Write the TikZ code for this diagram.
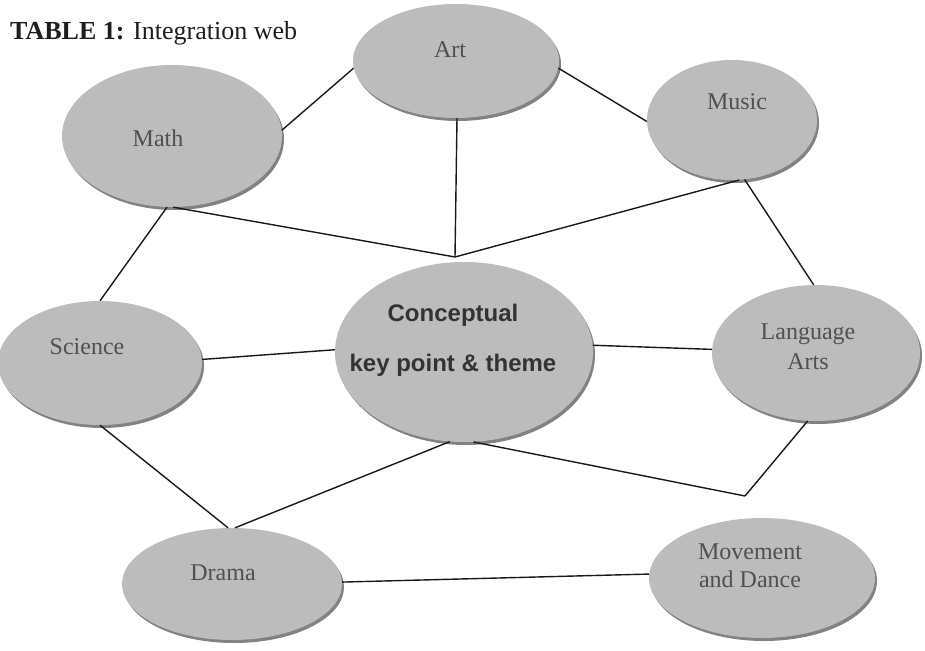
\documentclass[tikz,border=0pt]{standalone}
\usepackage{fontspec}
\setmainfont{Liberation Serif}
\newfontfamily\centerfont{Liberation Sans}
\usetikzlibrary{shapes.geometric,shadows}
\definecolor{ellfill}{RGB}{188,188,188}
\definecolor{ellshadow}{RGB}{130,130,130}
\definecolor{labelgray}{RGB}{80,80,80}
\definecolor{titlecol}{RGB}{30,30,30}
\begin{document}
\begin{tikzpicture}[x=1pt,y=-1pt,
  topic/.style={ellipse, fill=ellfill, draw=none, inner sep=0pt,
    general shadow={fill=ellshadow, shadow xshift=2pt, shadow yshift=-3pt}},
  lbl/.style={text=labelgray, font=\fontsize{24}{30}\selectfont, align=center, inner sep=0pt},
  link/.style={draw=black!90, line width=1.4pt}]
\useasboundingbox (0,0) rectangle (925,650);

% title
\node[anchor=base west, inner sep=0pt, text=titlecol, font=\fontsize{26}{30}\selectfont] (title) at (10,40) {\textbf{TABLE 1:} Integration web};

% ellipses
\node[topic, minimum width=206pt, minimum height=114pt] (art) at (456,61) {};
\node[topic, minimum width=220pt, minimum height=142pt] (math) at (172,136) {};
\node[topic, minimum width=170pt, minimum height=120pt] (music) at (732,120) {};
\node[topic, minimum width=204pt, minimum height=124pt] (science) at (100,363) {};
\node[topic, minimum width=258pt, minimum height=180pt] (conc) at (464,352) {};
\node[topic, minimum width=208pt, minimum height=136pt] (la) at (816,353) {};
\node[topic, minimum width=220pt, minimum height=112pt] (drama) at (232,584) {};
\node[topic, minimum width=226pt, minimum height=120pt] (move) at (762,578) {};

% labels
\node[lbl] (art-t) at (450,50) {Art};
\node[lbl] (math-t) at (158,138) {Math};
\node[lbl] (music-t) at (737,102) {Music};
\node[lbl] (sci-t) at (87,347) {Science};
\node[lbl, text=black!80, font=\centerfont\bfseries\fontsize{24}{50}\selectfont] (conc-t) at (453,340) {Conceptual\\key point \& theme};
\node[lbl] (la-t) at (808,347) {Language\\Arts};
\node[lbl] (drama-t) at (223,573) {Drama};
\node[lbl, font=\fontsize{24}{28}\selectfont] (move-t) at (750,566) {Movement\\and Dance};

% junctions
\coordinate (j1) at (455,257);
\coordinate (j2) at (745,496);

% connectors
\draw[link] (math.3) -- (art.184);
\draw[link] (art.-4) -- (music.181);
\draw[link] (art.-89) -- (j1);
\draw[link] (math.-89) -- (j1);
\draw[link] (music.-83) -- (j1);
\draw[link] (math.-94) -- (science.90);
\draw[link] (music.-78) -- (la.92);
\draw[link] (science.2) -- (conc.179);
\draw[link] (conc.3) -- (la.178);
\draw[link] (science.-90) -- (drama.94);
\draw[link] (conc.-99) -- (drama.87);
\draw[link] (conc.-84) -- (j2);
\draw[link] (la.-97) -- (j2);
\draw[link] (drama.1) -- (move.178);
\end{tikzpicture}
\end{document}
